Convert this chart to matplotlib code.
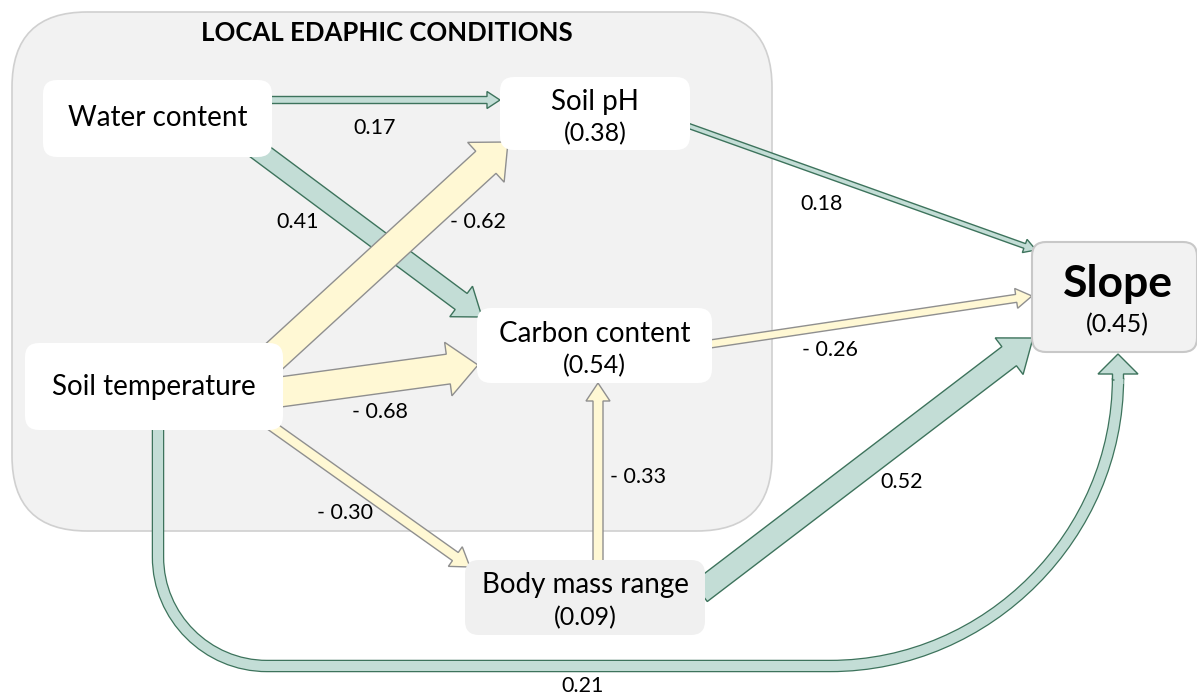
import matplotlib
matplotlib.use("Agg")
import matplotlib.pyplot as plt
from matplotlib.patches import FancyBboxPatch, FancyArrow, PathPatch
from matplotlib.path import Path

# noeuds du modele (nom, R2)
node_names = ["Water content", "Soil pH", "Carbon content", "Soil temperature",
              "Body mass range", "Slope"]
node_r2 = [None, "(0.38)", "(0.54)", None, "(0.09)", "(0.45)"]

# coefficients des chemins (source, cible, coef)
path_src = ["Water content", "Water content", "Soil temperature", "Soil temperature",
            "Soil temperature", "Body mass range", "Soil pH", "Carbon content",
            "Body mass range", "Soil temperature"]
path_dst = ["Soil pH", "Carbon content", "Soil pH", "Carbon content",
            "Body mass range", "Carbon content", "Slope", "Slope", "Slope", "Slope"]
path_coef = [0.17, 0.41, -0.62, -0.68, -0.30, -0.33, 0.18, -0.26, 0.52, 0.21]
path_label = ["0.17", "0.41", "- 0.62", "- 0.68", "- 0.30", "- 0.33",
              "0.18", "- 0.26", "0.52", "0.21"]

GREEN_FC, GREEN_EC = "#c3ddd6", "#3d735c"
YELLOW_FC, YELLOW_EC = "#fff8d4", "#8f8f8f"
FONT = "Lato"
LAB_FS = 15.5   # coefficients
NAME_FS = 20    # noms des variables
R2_FS = 18

# mise en page (pixels) : boites x0, y0, x1, y1, fond, bord
boxes = {
    "Water content": (43, 80, 272, 157, "white", "none"),
    "Soil pH": (500, 77, 690, 150, "white", "none"),
    "Carbon content": (477, 308, 712, 383, "white", "none"),
    "Soil temperature": (25, 343, 283, 430, "white", "none"),
    "Body mass range": (465, 560, 705, 635, "#f0f0f0", "none"),
    "Slope": (1032, 242, 1197, 352, "#f2f2f2", "#c8c8c8"),
}

# fleches droites : depart, arrivee, largeur, tete, longueur tete, position etiquette
arrows = [
    ((262, 100), (500, 100), 7, 17, 13, (375, 128)),
    ((255, 148), (482, 317), 20, 38, 26, (298, 222)),
    ((268, 362), (508, 142), 30, 54, 30, (478, 222)),
    ((280, 392), (478, 365), 30, 54, 30, (380, 412)),
    ((266, 422), (470, 567), 10, 24, 18, (345, 513)),
    ((598, 562), (598, 383), 10, 24, 18, (638, 477)),
    ((686, 125), (1036, 250), 5, 14, 12, (822, 204)),
    ((710, 344), (1032, 296), 8, 20, 16, (830, 350)),
    ((700, 592), (1033, 338), 24, 46, 30, (902, 482)),
]

fig = plt.figure(figsize=(11.97, 6.96), dpi=100)
ax = fig.add_axes([0, 0, 1, 1])
ax.set_xlim(0, 1197)
ax.set_ylim(696, 0)
ax.set_aspect("equal")
ax.axis("off")

# grand cadre
ax.add_patch(FancyBboxPatch((12, 12), 760, 519, boxstyle="round,pad=0,rounding_size=75",
                            fc="#f2f2f2", ec="#d0d0d0", lw=1.2, zorder=0))
ax.text(387, 33, "LOCAL EDAPHIC CONDITIONS", ha="center", va="center",
        fontsize=18.5, fontweight="bold", family=FONT, zorder=5)

# fleche courbe Soil temperature -> Slope
px = 100 / 72
verts = [(158, 430), (158, 557), (158, 617), (207, 666), (267, 666),
         (830, 666), (989, 666), (1118, 534), (1118, 378)]
codes = [Path.MOVETO, Path.LINETO, Path.CURVE4, Path.CURVE4, Path.CURVE4,
         Path.LINETO, Path.CURVE4, Path.CURVE4, Path.CURVE4]
curve = Path(verts, codes)
w10 = 11
ax.add_patch(PathPatch(curve, fill=False, ec=GREEN_EC, lw=(w10 + 1.5) / px,
                       capstyle="butt", zorder=1))
ax.add_patch(PathPatch(curve, fill=False, ec=GREEN_FC, lw=(w10 - 1) / px,
                       capstyle="butt", zorder=1.1))
ax.add_patch(FancyArrow(1118, 380, 0, -26, width=w10, head_width=40, head_length=20,
                        length_includes_head=True, fc=GREEN_FC, ec=GREEN_EC, lw=1,
                        zorder=1.2))
ax.add_patch(PathPatch(Path([(1118 - w10 / 2 + 1, 381), (1118 + w10 / 2 - 1, 381)]),
                       ec=GREEN_FC, lw=5 / px, zorder=1.3))
ax.text(583, 686, path_label[9], ha="center", va="center", fontsize=LAB_FS,
        family=FONT, zorder=5)

# fleches droites : vertes d'abord, jaunes par-dessus
order = sorted(range(len(arrows)), key=lambda i: path_coef[i] < 0)
for i in order:
    (x0, y0), (x1, y1), w, hw, hl, lab = arrows[i]
    neg = path_coef[i] < 0
    ax.add_patch(FancyArrow(x0, y0, x1 - x0, y1 - y0, width=w, head_width=hw,
                            head_length=hl, length_includes_head=True,
                            fc=YELLOW_FC if neg else GREEN_FC,
                            ec=YELLOW_EC if neg else GREEN_EC,
                            lw=1, zorder=2 + neg))
    ax.text(lab[0], lab[1], path_label[i], ha="center", va="center",
            fontsize=LAB_FS, family=FONT, zorder=5)

# boites des variables
for name, r2 in zip(node_names, node_r2):
    x0, y0, x1, y1, fc, ec = boxes[name]
    ax.add_patch(FancyBboxPatch((x0, y0), x1 - x0, y1 - y0,
                                boxstyle="round,pad=0,rounding_size=14",
                                fc=fc, ec=ec, lw=1.5, zorder=4))
    cx = (x0 + x1) / 2
    if name == "Slope":
        ax.text(cx + 3, 284, name, ha="center", va="center", fontsize=32,
                fontweight="bold", family=FONT, zorder=5)
        ax.text(cx + 3, 325, r2, ha="center", va="center", fontsize=R2_FS,
                family=FONT, zorder=5)
    elif r2 is None:
        ax.text(cx, (y0 + y1) / 2, name, ha="center", va="center", fontsize=NAME_FS,
                family=FONT, zorder=5)
    else:
        ax.text(cx, y0 + 0.34 * (y1 - y0), name, ha="center", va="center",
                fontsize=NAME_FS, family=FONT, zorder=5)
        ax.text(cx, y0 + 0.77 * (y1 - y0), r2, ha="center", va="center",
                fontsize=R2_FS, family=FONT, zorder=5)

fig.savefig("out.png", dpi=100)
